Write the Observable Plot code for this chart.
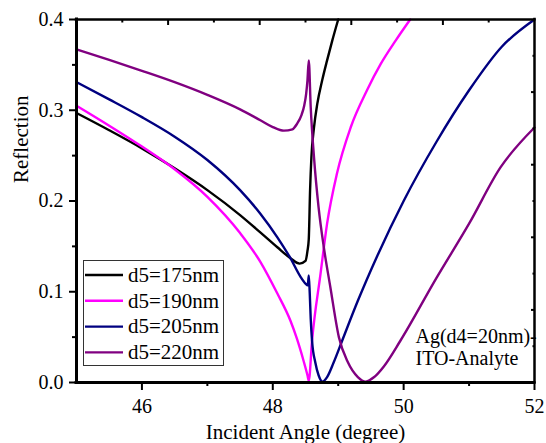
<!DOCTYPE html>
<html>
<head>
<meta charset="utf-8">
<script src="https://cdn.jsdelivr.net/npm/d3@7"></script>
<script src="https://cdn.jsdelivr.net/npm/@observablehq/plot@0.6"></script>
<style>
  html, body { margin: 0; padding: 0; background: #fff; }
  #chart svg { display: block; }
</style>
</head>
<body>
<div id="chart"></div>
<script>
// Series labels and line colours
const seriesNames = ["d5=175nm", "d5=190nm", "d5=205nm", "d5=220nm"];
const seriesColors = ["#000000", "#ff00ff", "#000080", "#800080"];

// d5 = 175 nm
const angle175 = [45, 45.5, 46, 46.5, 47, 47.5, 47.8, 48.07, 48.27, 48.41, 48.5, 48.53, 48.55, 48.57, 48.59, 48.63, 48.68, 48.755, 48.83, 48.91, 49.0];
const refl175  = [0.297, 0.278, 0.258, 0.236, 0.212, 0.1845, 0.166, 0.149, 0.137, 0.131, 0.134, 0.145, 0.158, 0.212, 0.248, 0.281, 0.307, 0.333, 0.355, 0.377, 0.400];

// d5 = 190 nm
const angle190 = [45, 45.5, 46, 46.5, 47, 47.5, 47.81, 48.07, 48.27, 48.37, 48.47, 48.53, 48.55, 48.6, 48.73, 48.83, 48.98, 49.19, 49.44, 49.65, 49.88, 50.1];
const refl190  = [0.305, 0.283, 0.260, 0.235, 0.2046, 0.1647, 0.133, 0.098, 0.068, 0.048, 0.024, 0.008, 0.002, 0.046, 0.12, 0.175, 0.23, 0.281, 0.322, 0.351, 0.377, 0.4];

// d5 = 205 nm
const angle205 = [45, 45.5, 46, 46.5, 47, 47.5, 47.81, 48.07, 48.27, 48.42, 48.5, 48.535, 48.55, 48.565, 48.58, 48.6, 48.65, 48.7, 48.76, 48.83, 48.93, 49.06, 49.3, 49.6, 50.0, 50.5, 51.0, 51.5, 52];
const refl205  = [0.331, 0.312, 0.2924, 0.2709, 0.2452, 0.212, 0.186, 0.160, 0.137, 0.117, 0.109, 0.107, 0.118, 0.098, 0.07, 0.046, 0.022, 0.008, 0.001, 0.006, 0.022, 0.046, 0.09, 0.14, 0.2, 0.265, 0.322, 0.37, 0.4];

// d5 = 220 nm
const angle220 = [45, 45.5, 46, 46.5, 47, 47.5, 47.81, 48.0, 48.17, 48.3, 48.37, 48.44, 48.48, 48.51, 48.53, 48.55, 48.58, 48.63, 48.7, 48.78, 48.88, 49.01, 49.15, 49.3, 49.42, 49.55, 49.7, 49.95, 50.5, 51.0, 51.48, 52];
const refl220  = [0.367, 0.3555, 0.3435, 0.331, 0.317, 0.301, 0.289, 0.2815, 0.2775, 0.279, 0.285, 0.295, 0.305, 0.318, 0.333, 0.355, 0.303, 0.248, 0.193, 0.149, 0.105, 0.050, 0.022, 0.006, 0.001, 0.006, 0.018, 0.046, 0.115, 0.175, 0.237, 0.281];

// Axis ticks
const xMajorTicks = [46, 48, 50, 52];
const xMinorTicks = [47, 49, 51];
const yMajorTicks = [0, 0.1, 0.2, 0.3, 0.4];
const yMinorTicks = [0.05, 0.15, 0.25, 0.35];
const topMajorTicks = [46.4, 47.8, 49.2, 50.6];
const topMinorTicks = [45.7, 47.1, 48.5, 49.9, 51.3];
const rightMajorTicks = [0.08, 0.16, 0.24, 0.32];
const rightMinorTicks = [0.04, 0.12, 0.20, 0.28, 0.36];

const annotation = "Ag(d4=20nm)-\nITO-Analyte";
const xLabel = "Incident Angle (degree)";
const yLabel = "Reflection";

const angles = [angle175, angle190, angle205, angle220];
const refls = [refl175, refl190, refl205, refl220];
const rows = seriesNames.flatMap((name, i) =>
  angles[i].map((a, j) => ({series: name, angle: a, refl: refls[i][j]}))
);

const font = "'Liberation Serif', 'Times New Roman', serif";
const noText = () => "";

const chart = Plot.plot({
  width: 546,
  height: 443,
  marginLeft: 76,
  marginRight: 12,
  marginTop: 19,
  marginBottom: 61,
  style: {fontFamily: font, background: "#fff", color: "#000", overflow: "visible"},
  x: {domain: [45, 52], label: null},
  y: {domain: [0, 0.4], label: null},
  color: {domain: seriesNames, range: seriesColors},
  marks: [
    Plot.line(rows, {x: "angle", y: "refl", z: "series", stroke: "series", strokeWidth: 2.4, curve: "monotone-x"}),
    // frame
    Plot.ruleX([45], {strokeWidth: 3, strokeLinecap: "square"}),
    Plot.ruleY([0], {strokeWidth: 3, strokeLinecap: "square"}),
    Plot.ruleX([52], {strokeWidth: 2.5, strokeLinecap: "square"}),
    Plot.ruleY([0.4], {strokeWidth: 2.5, strokeLinecap: "square"}),
    // bottom axis
    Plot.axisX(xMajorTicks, {tickSize: 8, tickPadding: 8, strokeWidth: 2, fontSize: 20, label: null, tickFormat: d3.format("d")}),
    Plot.axisX(xMinorTicks, {tickSize: 4, strokeWidth: 2, label: null, tickFormat: noText}),
    // left axis
    Plot.axisY(yMajorTicks, {tickSize: 7, tickPadding: 6, strokeWidth: 2, fontSize: 20, label: null, tickFormat: d3.format(".1f")}),
    Plot.axisY(yMinorTicks, {tickSize: 4, strokeWidth: 2, label: null, tickFormat: noText}),
    // top axis (inward)
    Plot.axisX(topMajorTicks, {anchor: "top", tickSize: -5, strokeWidth: 2, label: null, tickFormat: noText}),
    Plot.axisX(topMinorTicks, {anchor: "top", tickSize: -2.5, strokeWidth: 2, label: null, tickFormat: noText}),
    // right axis (inward)
    Plot.axisY(rightMajorTicks, {anchor: "right", tickSize: -4, strokeWidth: 2, label: null, tickFormat: noText}),
    Plot.axisY(rightMinorTicks, {anchor: "right", tickSize: -2.5, strokeWidth: 2, label: null, tickFormat: noText}),
    // axis titles
    Plot.text([xLabel], {frameAnchor: "bottom", lineAnchor: "bottom", dy: 56, fontSize: 21}),
    Plot.text([yLabel], {frameAnchor: "left", rotate: -90, lineAnchor: "bottom", dx: -49, dy: -18, fontSize: 21}),
    // annotation
    Plot.text([annotation], {frameAnchor: "bottom-right", textAnchor: "start", lineAnchor: "bottom", lineHeight: 1.1, dx: -119, dy: -18, fontSize: 20})
  ]
});

// legend box inside the plot
const svg = d3.select(chart);
const legend = svg.append("g")
  .attr("font-family", font)
  .attr("font-size", 21)
  .attr("text-anchor", "start");
legend.append("rect")
  .attr("x", 83.5).attr("y", 260.5).attr("width", 140).attr("height", 105)
  .attr("fill", "#fff").attr("stroke", "#333").attr("stroke-width", 1);
seriesNames.forEach((name, i) => {
  const cy = 275 + i * 25.8;
  legend.append("line")
    .attr("x1", 85).attr("x2", 123).attr("y1", cy).attr("y2", cy)
    .attr("stroke", seriesColors[i]).attr("stroke-width", 2.4);
  legend.append("text")
    .attr("x", 128).attr("y", cy).attr("dy", "0.32em")
    .attr("text-anchor", "start")
    .attr("fill", "#000").text(name);
});

document.getElementById("chart").appendChild(chart);
</script>
</body>
</html>
